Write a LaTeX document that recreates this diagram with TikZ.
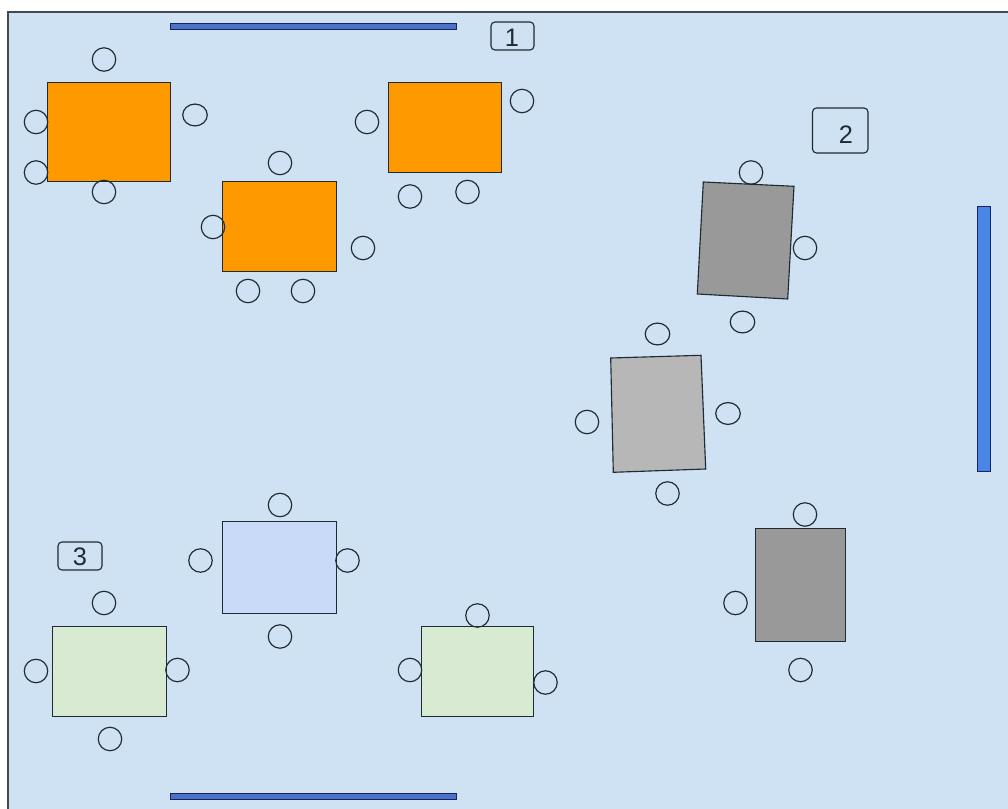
\documentclass[tikz,border=0pt]{standalone}
\usepackage{fontspec}
\setmainfont{Liberation Sans}
\definecolor{room}{HTML}{CFE2F3}
\definecolor{tblorange}{HTML}{FF9900}
\definecolor{tbldark}{HTML}{999999}
\definecolor{tbllight}{HTML}{B7B7B7}
\definecolor{tblblue}{HTML}{C9DAF8}
\definecolor{tblgreen}{HTML}{D9EAD3}
\definecolor{barblue}{HTML}{4A72C8}
\definecolor{barside}{HTML}{4A86E8}
\definecolor{ink}{HTML}{1F2A33}
\tikzset{
  x=0.75pt,y=-0.75pt,
  tbl/.style={draw=ink,line width=0.85pt,line join=miter},
  wallbar/.style={draw=ink!80!blue,line width=0.85pt},
  chair/.style={draw=ink,line width=0.9pt},
  tag/.style={draw=ink,line width=0.85pt,rounded corners=3pt},
  tagtext/.style={font=\fontsize{19}{22}\selectfont,text=ink,inner sep=0pt}
}
\newcommand{\seat}[2]{\draw[chair] (#1,#2) circle[radius=8.8pt];}
\newcommand{\seatw}[2]{\draw[chair] (#1,#2) circle[x radius=9.2pt,y radius=8.2pt];}
\begin{document}
\begin{tikzpicture}
\useasboundingbox (0,0) rectangle (1008,809);
\fill[white] (0,0) rectangle (1008,809);
\fill[room] (8,12) rectangle (1008,809);
\draw[draw=ink!85,line width=1pt] (8,809) -- (8,12) -- (1008,12);
% walls
\draw[wallbar,fill=barblue] (170.7,23.7) rectangle (456.7,29.7);
\draw[wallbar,fill=barblue] (170.7,793.7) rectangle (456.7,799.7);
\draw[wallbar,fill=barside] (977.7,206.7) rectangle (990.7,471.7);
% orange tables
\draw[tbl,fill=tblorange] (47.7,82.7) rectangle (170.7,181.7);
\draw[tbl,fill=tblorange] (222.7,181.7) rectangle (336.7,271.7);
\draw[tbl,fill=tblorange] (388.7,82.7) rectangle (501.7,172.7);
% grey tables
\draw[tbl,fill=tbldark] (703.3,182) -- (794,186.3) -- (787.7,299) -- (697.3,294) -- cycle;
\draw[tbl,fill=tbllight] (610.7,358) -- (701,355.3) -- (705.7,469) -- (613.3,472.3) -- cycle;
\draw[tbl,fill=tbldark] (755.7,528.7) rectangle (845.7,641.7);
% light tables
\draw[tbl,fill=tblblue] (222.7,521.7) rectangle (336.7,613.7);
\draw[tbl,fill=tblgreen] (52.7,626.7) rectangle (166.7,716.7);
\draw[tbl,fill=tblgreen] (421.7,626.7) rectangle (533.7,716.7);
% chairs, table 1
\seat{104}{59.5}\seat{36}{122}\seat{36}{172.5}\seat{104}{192}\seatw{195}{115}
% chairs, table 2
\seat{280}{163}\seat{213}{227}\seat{363}{248}\seat{248}{291}\seat{303}{291}
% chairs, table 3
\seat{367}{122}\seat{522}{101}\seat{410}{196.5}\seat{467.5}{192}
% chairs, grey tables
\seat{751}{172.5}\seat{805}{248}\seatw{742.5}{322}
\seatw{657.5}{334}\seat{587}{422}\seatw{728}{413.5}\seat{667.5}{493.5}
\seat{805}{514.5}\seat{735.5}{603}\seat{800.5}{670}
% chairs, light tables
\seat{280}{505}\seat{200.5}{560.5}\seat{347.5}{560.5}\seat{280}{636.5}
\seat{104}{603}\seat{36}{671}\seat{177.5}{670}\seat{110}{739}
\seat{477.5}{615.5}\seat{410}{670}\seat{545.5}{682.5}
% labels
\draw[tag] (491,22) rectangle (534,50);
\node[tagtext] (one) at (512,37.5) {1};
\draw[tag] (812.5,108) rectangle (868,153);
\node[tagtext] (two) at (846,135) {2};
\draw[tag] (58,542) rectangle (102,570);
\node[tagtext] (three) at (80,557) {3};
\end{tikzpicture}
\end{document}
